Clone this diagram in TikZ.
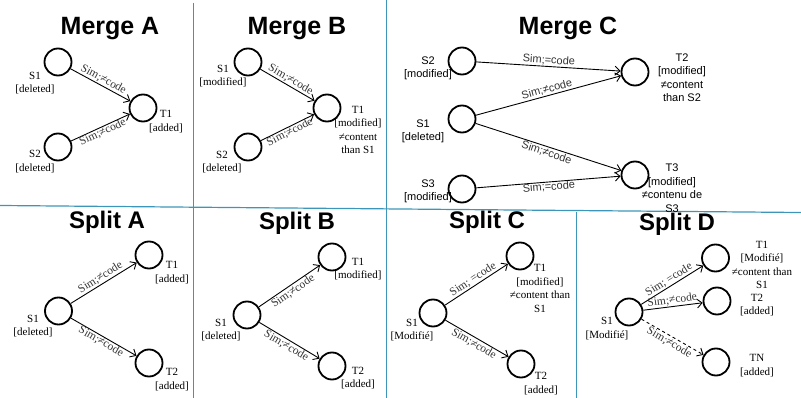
\documentclass[tikz,border=0pt]{standalone}
\usepackage{fontspec}
\setmainfont{Liberation Serif}
\newfontfamily\arial{Liberation Sans}
\usetikzlibrary{arrows.meta}
\definecolor{sepc}{RGB}{60,150,185}
\begin{document}
\begin{tikzpicture}[x=1pt,y=-1pt,
  st/.style={circle,draw,line width=1.8pt,minimum size=27pt,inner sep=0pt},
  lab/.style={font=\fontsize{11}{13.5}\selectfont,align=center,inner sep=0pt},
  slab/.style={font=\arial\fontsize{11}{13.5}\selectfont,align=center,inner sep=0pt},
  ttl/.style={font=\arial\bfseries\fontsize{25}{25}\selectfont,anchor=base,inner sep=0pt},
  sttl/.style={font=\arial\bfseries\fontsize{24}{24}\selectfont,anchor=base,inner sep=0pt},
  arr/.style={line width=0.9pt,-{Straight Barb[length=5pt,width=9pt]}},
  el/.style={font=\fontsize{11.5}{12}\selectfont,sloped,midway,inner sep=1pt,text=black!80},
  sel/.style={font=\arial\fontsize{11}{12}\selectfont,sloped,midway,inner sep=1pt,text=black!80},
  sepl/.style={draw=sepc,line width=1.2pt}
]
\useasboundingbox (0,0) rectangle (801,398);
% separators
\coordinate (h1) at (0,205.5);
\coordinate (h2) at (801,212.5);
\coordinate (v1a) at (193.5,3);
\coordinate (v1b) at (193.5,398);
\coordinate (v2a) at (386.5,0);
\coordinate (v2b) at (386.5,398);
\coordinate (v3a) at (576.5,212);
\coordinate (v3b) at (576.5,398);
\draw[sepl] (h1) -- (h2);
\draw[sepl] (v1a) -- (v1b);
\draw[sepl] (v2a) -- (v2b);
\draw[sepl] (v3a) -- (v3b);

% Merge A
\node[ttl] (tMA) at (110,35) {Merge A};
\node[st] (maS1) at (58,62) {};
\node[st] (maS2) at (58,147) {};
\node[st] (maT1) at (143,108) {};
\node[lab] (maS1l) at (35,83) {S1\\{}[deleted]};
\node[lab] (maS2l) at (35,161.5) {S2\\{}[deleted]};
\node[lab] (maT1l) at (166,121.5) {T1\\{}[added]};
\draw[arr] (maS1) -- node[el,above]{Sim;≠code} (maT1);
\draw[arr] (maS2) -- node[el,below,inner sep=0pt]{Sim;≠code} (maT1);

% Merge B
\node[ttl] (tMB) at (297,35) {Merge B};
\node[st] (mbS1) at (248,62) {};
\node[st] (mbS2) at (248,147) {};
\node[st] (mbT1) at (327,108) {};
\node[lab] (mbS1l) at (223,76) {S1\\{}[modified]};
\node[lab] (mbS2l) at (222,162) {S2\\{}[deleted]};
\node[lab] (mbT1l) at (358,130) {T1\\{}[modified]\\≠content\\than S1};
\draw[arr] (mbS1) -- node[el,above]{Sim;≠code} (mbT1);
\draw[arr] (mbS2) -- node[el,below,inner sep=0pt]{Sim;≠code} (mbT1);

% Merge C
\node[ttl] (tMC) at (568,35) {Merge C};
\node[st] (mcS2) at (462,61) {};
\node[st] (mcS1) at (462,119) {};
\node[st] (mcS3) at (462,189) {};
\node[st] (mcT2) at (635,72) {};
\node[st] (mcT3) at (635,175) {};
\node[slab] (mcS2l) at (428,68.5) {S2\\{}[modified]};
\node[slab] (mcS1l) at (423,131.5) {S1\\{}[deleted]};
\node[slab] (mcS3l) at (428,191.5) {S3\\{}[modified]};
\node[slab] (mcT2l) at (682,77.5) {T2\\{}[modified]\\≠content\\than S2};
\node[slab] (mcT3l) at (672,188) {T3\\{}[modified]\\≠contenu de\\S3};
\draw[arr] (mcS2) -- node[sel,above]{Sim;=code} (mcT2);
\draw[arr] (mcS1) -- node[sel,above]{Sim;≠code} (mcT2);
\draw[arr] (mcS1) -- node[sel,below]{Sim;≠code} (mcT3);
\draw[arr] (mcS3) -- node[sel,below,inner sep=0pt]{Sim;=code} (mcT3);

% Split A
\node[sttl] (tSA) at (107,229) {Split A};
\node[st] (saS1) at (58.5,311) {};
\node[st] (saT1) at (149,255) {};
\node[st] (saT2) at (149,363) {};
\node[lab] (saS1l) at (33,326) {S1\\{}[deleted]};
\node[lab] (saT1l) at (172,272.5) {T1\\{}[added]};
\node[lab] (saT2l) at (172,379.5) {T2\\{}[added]};
\draw[arr] (saS1) -- node[el,above]{Sim;≠code} (saT1);
\draw[arr] (saS1) -- node[el,below,inner sep=0pt]{Sim;≠code} (saT2);

% Split B
\node[sttl] (tSB) at (297,230) {Split B};
\node[st] (sbS1) at (247,315) {};
\node[st] (sbT1) at (332,257) {};
\node[st] (sbT2) at (332,366) {};
\node[lab] (sbS1l) at (221,330) {S1\\{}[deleted]};
\node[lab] (sbT1l) at (358,269) {T1\\{}[modified]};
\node[lab] (sbT2l) at (358,378) {T2\\{}[added]};
\draw[arr] (sbS1) -- node[el,below]{Sim;≠code} (sbT1);
\draw[arr] (sbS1) -- node[el,below]{Sim;≠code} (sbT2);

% Split C
\node[sttl] (tSC) at (487,229) {Split C};
\node[st] (scS1) at (433,313) {};
\node[st] (scT1) at (520,256) {};
\node[st] (scT2) at (521,364) {};
\node[lab] (scS1l) at (412,330) {S1\\{}[Modifié]};
\node[lab] (scT1l) at (540,288.5) {T1\\{}[modified]\\≠content than\\S1};
\node[lab] (scT2l) at (541,383.5) {T2\\{}[added]};
\draw[arr] (scS1) -- node[el,above]{Sim; =code} (scT1);
\draw[arr] (scS1) -- node[el,below]{Sim;≠code} (scT2);

% Split D
\node[sttl] (tSD) at (677,231) {Split D};
\node[st] (sdS1) at (629,312) {};
\node[st] (sdT1) at (715.5,258) {};
\node[st] (sdT2) at (717,301) {};
\node[st] (sdTN) at (716,362) {};
\node[lab] (sdS1l) at (607,328.5) {S1\\{}[Modifié]};
\node[lab] (sdT1l) at (762,265) {T1\\{}[Modifié]\\≠content than\\S1};
\node[lab] (sdT2l) at (757,305) {T2\\{}[added]};
\node[lab] (sdTNl) at (757,365.5) {TN\\{}[added]};
\draw[arr] (sdS1) -- node[el,above]{Sim; =code} (sdT1);
\draw[arr] (sdS1) -- node[el,above]{Sim;≠code} (sdT2);
\draw[arr,dashed] (sdS1) -- node[el,below]{Sim;≠code} (sdTN);
\end{tikzpicture}
\end{document}
